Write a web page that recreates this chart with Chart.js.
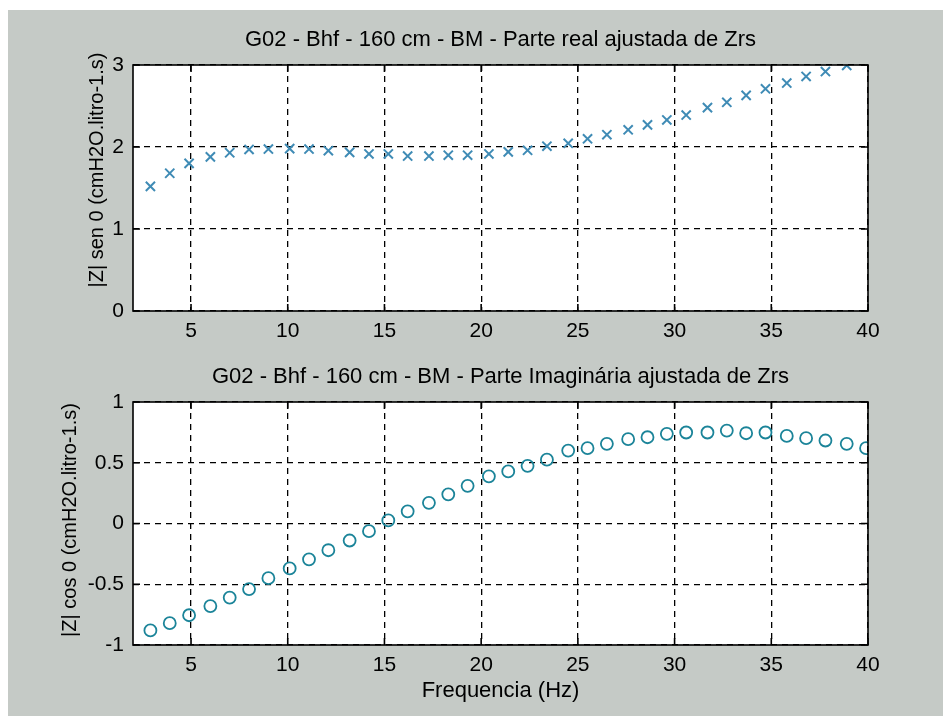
<!DOCTYPE html>
<html>
<head>
<meta charset="utf-8">
<script src="https://cdn.jsdelivr.net/npm/chart.js@4"></script>
<style>
body{margin:0;background:#fff;width:943px;height:716px;overflow:hidden;position:relative}
#bg{position:absolute;left:8px;top:10px;right:0;bottom:0;background:#c5cac6}
canvas{position:absolute;left:0}
#top{top:0}
#bottom{top:350px}
</style>
</head>
<body>
<div id="bg"></div>
<canvas id="top" width="943" height="350"></canvas>
<canvas id="bottom" width="943" height="366"></canvas>
<script>
// frequencias (Hz)
var freq=[2.9,3.9,4.9,6.0,7.0,8.0,9.0,10.1,11.1,12.1,13.2,14.2,15.2,16.2,17.3,18.3,19.3,20.4,21.4,22.4,23.4,24.5,25.5,26.5,27.6,28.6,29.6,30.6,31.7,32.7,33.7,34.7,35.8,36.8,37.8,38.9,39.9];
// |Z| sen 0  (parte real)
var realPart=[1.52,1.68,1.80,1.88,1.93,1.97,1.975,1.98,1.975,1.955,1.935,1.915,1.915,1.89,1.89,1.90,1.90,1.915,1.94,1.96,2.01,2.045,2.10,2.15,2.21,2.27,2.33,2.39,2.48,2.545,2.63,2.71,2.78,2.86,2.92,2.995];
// |Z| cos 0  (parte imaginaria)
var imagPart=[-0.88,-0.82,-0.755,-0.68,-0.61,-0.54,-0.45,-0.37,-0.295,-0.22,-0.14,-0.063,0.025,0.10,0.17,0.24,0.31,0.388,0.429,0.475,0.525,0.60,0.62,0.656,0.694,0.71,0.738,0.749,0.749,0.765,0.743,0.749,0.721,0.702,0.683,0.656,0.62];

var xTicks=[5,10,15,20,25,30,35,40];
var yTicksTop=[0,1,2,3];
var yTicksBottom=[-1,-0.5,0,0.5,1];

var FONT='"Liberation Sans", Arial, sans-serif';

// caixa, ticks internos e rotulo do eixo y (estilo matlab)
const matlabBox={
    id:'matlabBox',
    beforeDraw(chart){
        var a=chart.chartArea, ctx=chart.ctx;
        ctx.save();
        ctx.fillStyle='#fff';
        ctx.fillRect(a.left,a.top,a.width,a.height);
        ctx.restore();
    },
    afterDraw(chart,args,opts){
        var a=chart.chartArea, ctx=chart.ctx;
        var sx=chart.scales.x, sy=chart.scales.y;
        ctx.save();
        ctx.strokeStyle='#000';
        ctx.lineWidth=1.6;
        ctx.strokeRect(a.left,a.top,a.width,a.height);
        ctx.beginPath();
        sx.ticks.forEach(function(t){
            var px=sx.getPixelForValue(t.value);
            ctx.moveTo(px,a.bottom); ctx.lineTo(px,a.bottom-7);
            ctx.moveTo(px,a.top); ctx.lineTo(px,a.top+7);
        });
        sy.ticks.forEach(function(t){
            var py=sy.getPixelForValue(t.value);
            ctx.moveTo(a.left,py); ctx.lineTo(a.left+7,py);
            ctx.moveTo(a.right,py); ctx.lineTo(a.right-7,py);
        });
        ctx.stroke();
        ctx.translate(opts.labelX,opts.labelY);
        ctx.rotate(-Math.PI/2);
        ctx.font='20px '+FONT;
        ctx.fillStyle='#000';
        ctx.textAlign='center';
        ctx.textBaseline='middle';
        ctx.fillText(opts.label,0,0);
        ctx.restore();
    }
};

function makeOptions(title,titlePad,yMin,yMax,yTicks,xHeight,yLabel,labelX,xTitle){
    return {
        responsive:false,
        animation:false,
        layout:{padding:{left:0,right:75,top:0,bottom:0}},
        plugins:{
            legend:{display:false},
            tooltip:{enabled:false},
            title:{display:true,fullSize:false,text:title,color:'#000',font:{family:FONT,size:22,weight:'normal'},padding:titlePad},
            matlabBox:{label:yLabel,labelX:labelX,labelY:170}
        },
        scales:{
            x:{
                type:'linear',min:2,max:40,
                afterBuildTicks:function(s){s.ticks=xTicks.map(function(v){return {value:v};});},
                afterFit:function(s){s.height=xHeight;},
                grid:{color:'#000',lineWidth:1.3,drawTicks:false},
                border:{display:false,dash:[6,5]},
                ticks:{padding:8,color:'#000',font:{family:FONT,size:21},callback:function(v){return String(v);}},
                title:xTitle
            },
            y:{
                min:yMin,max:yMax,
                afterBuildTicks:function(s){s.ticks=yTicks.map(function(v){return {value:v};});},
                afterFit:function(s){s.width=133;},
                grid:{color:'#000',lineWidth:1.3,drawTicks:false},
                border:{display:false,dash:[6,5]},
                ticks:{padding:9,color:'#000',font:{family:FONT,size:21},callback:function(v){return String(v);}}
            }
        }
    };
}

var realPoints=realPart.map(function(v,i){return {x:freq[i],y:v};});
var imagPoints=imagPart.map(function(v,i){return {x:freq[i],y:v};});

const topChart=new Chart(document.getElementById('top'),{
    type:'scatter',
    data:{datasets:[{
        label:'Parte real',
        data:realPoints,
        pointStyle:'crossRot',
        pointRadius:6.5,
        pointBorderWidth:2,
        borderColor:'#3f8bb5',
        backgroundColor:'#3f8bb5'
    }]},
    options:makeOptions('G02 - Bhf - 160 cm - BM - Parte real ajustada de Zrs',{top:27,bottom:11.6},0,3,yTicksTop,39,
        '|Z| sen 0 (cmH2O.litro-1.s)',97,{display:false}),
    plugins:[matlabBox]
});

const bottomChart=new Chart(document.getElementById('bottom'),{
    type:'scatter',
    data:{datasets:[{
        label:'Parte imaginaria',
        data:imagPoints,
        pointStyle:'circle',
        pointRadius:6,
        pointBorderWidth:1.8,
        borderColor:'#1b8499',
        backgroundColor:'rgba(0,0,0,0)'
    }]},
    options:makeOptions('G02 - Bhf - 160 cm - BM - Parte Imaginária ajustada de Zrs',{top:14,bottom:11.6},-1,1,yTicksBottom,71,
        '|Z| cos 0 (cmH2O.litro-1.s)',70,
        {display:true,text:'Frequencia (Hz)',color:'#000',font:{family:FONT,size:22},padding:{top:0,bottom:12}}),
    plugins:[matlabBox]
});
</script>
</body>
</html>
